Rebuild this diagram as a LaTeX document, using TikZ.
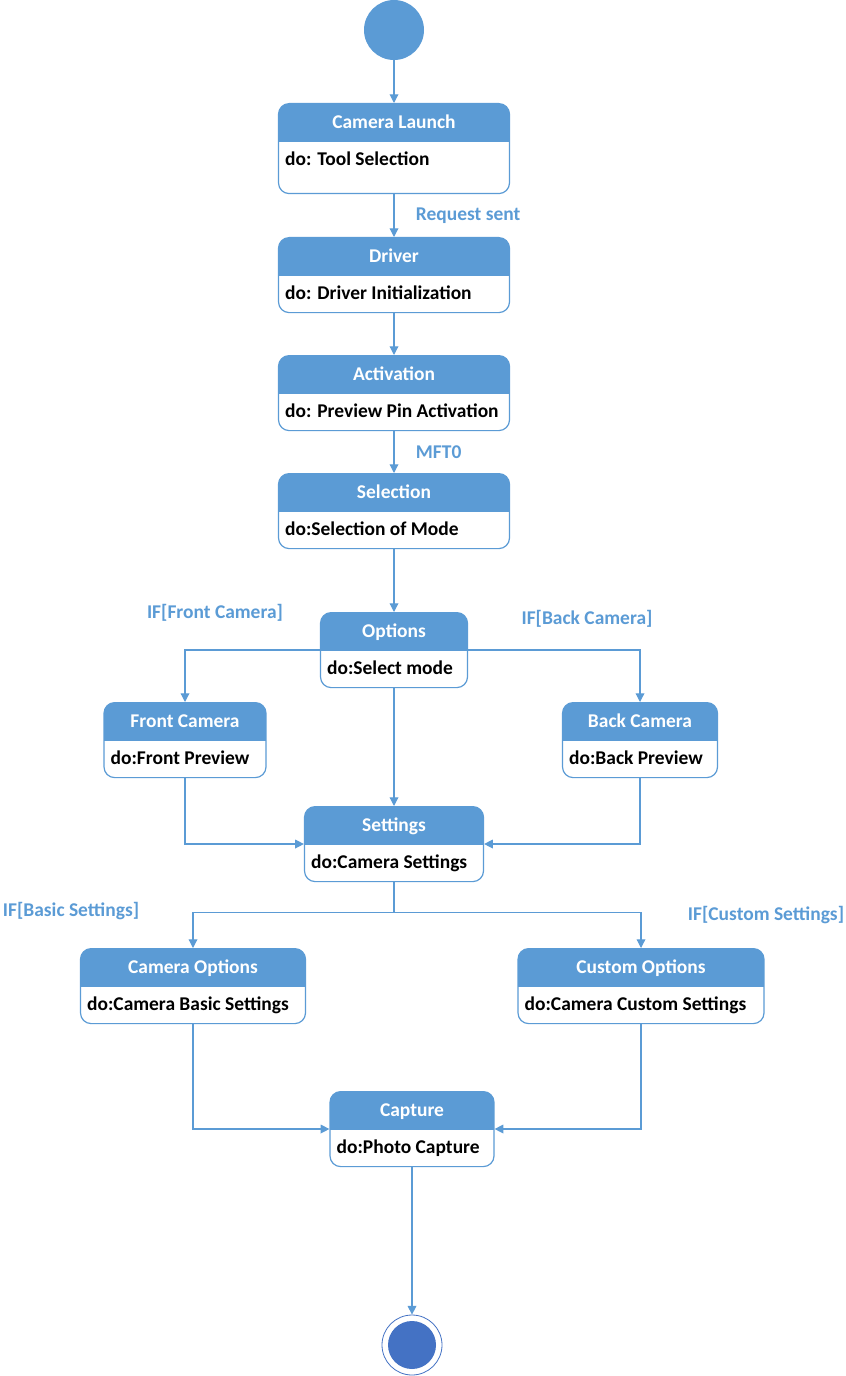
\documentclass[tikz,border=0pt]{standalone}
\usepackage{fontspec}
\setmainfont{Carlito}
\usetikzlibrary{arrows.meta}

\definecolor{hdrblue}{HTML}{5B9BD5}
\definecolor{endblue}{HTML}{4472C4}

% title in the blue head, activity in the white body
\newcommand{\statetext}[4]{%
  \vbox{\offinterlineskip
    \vbox to 28.5pt{\hbox to #1{\hss\rule{0pt}{18.75pt}\textcolor{white}{#3}\hss}\vss}
    \vbox to #2{\hbox to #1{\hskip 5pt\rule{0pt}{18pt}#4\hss}\vss}}}

\begin{document}
\begin{tikzpicture}[x=0.75pt, y=-0.75pt, font=\fontsize{14.6}{17}\selectfont\bfseries]

    \tikzstyle{state} = [draw=hdrblue, fill=white, line width=0.9pt, rounded corners=8pt, inner sep=0pt, anchor=north,
        path picture={\fill[hdrblue, sharp corners] (path picture bounding box.north west) rectangle ([yshift=-28.5pt]path picture bounding box.north east);}]
    \tikzstyle{arrow} = [draw=hdrblue, line width=0.9pt, -{Triangle[length=6.5pt,width=6.5pt]}]
    \tikzstyle{guard} = [text=hdrblue, inner sep=0pt]

    \useasboundingbox (0,0) rectangle (845,1376);

    \node (start) [circle, fill=hdrblue, minimum size=45pt, inner sep=0pt] at (394,30) {};

    \node (launch) [state] at (394,103) {\statetext{173.25pt}{39pt}{Camera Launch}{do: Tool Selection}};
    \node (driver) [state] at (394,237) {\statetext{173.25pt}{27.75pt}{Driver}{do: Driver Initialization}};
    \node (activation) [state] at (394,355) {\statetext{173.25pt}{27.75pt}{Activation}{do: Preview Pin Activation}};
    \node (selection) [state] at (394,473) {\statetext{173.25pt}{27.75pt}{Selection}{do:Selection of Mode}};
    \node (options) [state] at (394,612) {\statetext{110.25pt}{27.75pt}{Options}{do:Select mode}};

    \node (front) [state] at (185,702) {\statetext{121.5pt}{27.75pt}{Front Camera}{do:Front Preview}};
    \node (back) [state] at (640,702) {\statetext{116.25pt}{27.75pt}{Back Camera}{do:Back Preview}};
    \node (settings) [state] at (394,806) {\statetext{134.25pt}{27.75pt}{Settings}{do:Camera Settings}};

    \node (camopt) [state] at (193,948) {\statetext{168.75pt}{27.75pt}{Camera Options}{do:Camera Basic Settings}};
    \node (custopt) [state] at (641,948) {\statetext{184.5pt}{27.75pt}{Custom Options}{do:Camera Custom Settings}};
    \node (capture) [state] at (412,1091) {\statetext{123pt}{27.75pt}{Capture}{do:Photo Capture}};

    \node (final) [circle, draw=endblue, line width=0.6pt, fill=white, minimum size=45pt, inner sep=0pt] at (412,1345) {};
    \fill[endblue] (final) circle (24);

    \node (iffront) [guard] at (215,613) {IF[Front Camera]};
    \node (ifback) [guard] at (587,619) {IF[Back Camera]};
    \node (ifbasic) [guard] at (71,911) {IF[Basic Settings]};
    \node (ifcustom) [guard] at (766,915) {IF[Custom Settings]};

    \draw [arrow] (start) -- (launch);
    \draw [arrow] (launch) -- node[guard, right=16pt] {Request sent} (driver);
    \draw [arrow] (driver) -- (activation);
    \draw [arrow] (activation) -- node[guard, right=16pt] {MFT0} (selection);
    \draw [arrow] (selection) -- (options);

    \draw [arrow] ([yshift=-28.5pt]options.north west) -| (front.north);
    \draw [arrow] ([yshift=-28.5pt]options.north east) -| (back.north);
    \draw [arrow] (options) -- (settings);
    \draw [arrow] (front.south) |- ([yshift=-28.5pt]settings.north west);
    \draw [arrow] (back.south) |- ([yshift=-28.5pt]settings.north east);

    \draw [arrow] (settings.south) -- ++(0,30) -| (camopt.north);
    \draw [arrow] (settings.south) -- ++(0,30) -| (custopt.north);
    \draw [arrow] (camopt.south) |- ([yshift=-28.5pt]capture.north west);
    \draw [arrow] (custopt.south) |- ([yshift=-28.5pt]capture.north east);

    \draw [arrow] (capture) -- (final);

\end{tikzpicture}
\end{document}
